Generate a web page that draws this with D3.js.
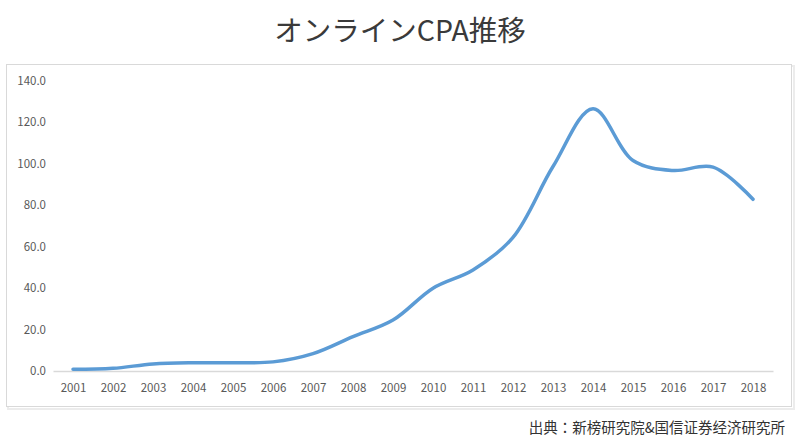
<!DOCTYPE html>
<html><head><meta charset="utf-8">
<script src="https://cdn.jsdelivr.net/npm/d3@7"></script>
<style>body{margin:0;background:#fff}svg{display:block}</style>
</head><body>
<svg id="c" width="800" height="446"></svg>
<script>
const years = ["2001","2002","2003","2004","2005","2006","2007","2008","2009","2010","2011","2012","2013","2014","2015","2016","2017","2018"];
const cpaValues = [0.8,1.3,3.4,4.0,4.0,4.4,8.4,16.6,24.6,40.0,48.8,64.5,98.7,126.6,101.6,96.8,98.4,82.9];
const yTicks = [0,20,40,60,80,100,120,140];
const titleText = "オンラインCPA推移";
const sourceText = "出典：新榜研究院&国信证券经济研究所";

const svg = d3.select("#c");
const font = "'Noto Sans CJK JP','Noto Sans',sans-serif";

// frame with slight shadow
svg.append("rect").attr("x",8).attr("y",66).attr("width",786).attr("height",343)
  .attr("fill","none").attr("stroke","#ececec").attr("stroke-width",2);
svg.append("rect").attr("x",6.5).attr("y",64.5).attr("width",785).attr("height",342)
  .attr("fill","#fff").attr("stroke","#d9d9d9").attr("stroke-width",1);

const x = d3.scalePoint().domain(years).range([53,773]).padding(0.5);
const y = d3.scaleLinear().domain([0,140]).range([371,81]);

// y labels
svg.append("g").selectAll("text").data(yTicks).join("text")
  .attr("x",46).attr("y",d=>y(d)).attr("dy","0.35em")
  .attr("text-anchor","end").attr("font-family",font).attr("font-size",11.5)
  .attr("fill","#595959").text(d=>d.toFixed(1));

// x axis
const xAxis = d3.axisBottom(x).tickSize(0).tickPadding(13);
const gx = svg.append("g").attr("transform",`translate(0,${y(0)})`).call(xAxis);
gx.select(".domain").attr("stroke","#d9d9d9").attr("stroke-width",1.3);
gx.selectAll("text").attr("font-family",font).attr("font-size",11.5).attr("fill","#595959");

// line
const line = d3.line().x((d,i)=>x(years[i])).y(d=>y(d)).curve(d3.curveCatmullRom.alpha(0.5));
svg.append("path").datum(cpaValues).attr("d",line)
  .attr("fill","none").attr("stroke","#5b9bd5").attr("stroke-width",3.5)
  .attr("stroke-linecap","round").attr("stroke-linejoin","round");

// title
svg.append("text").attr("x",400).attr("y",41).attr("text-anchor","middle")
  .attr("font-family",font).attr("font-size",28.5).attr("fill","#3a3a3a").text(titleText);

// source
svg.append("text").attr("x",785).attr("y",433).attr("text-anchor","end")
  .attr("font-family",font).attr("font-size",14.5).attr("fill","#333").text(sourceText);
</script>
</body></html>
